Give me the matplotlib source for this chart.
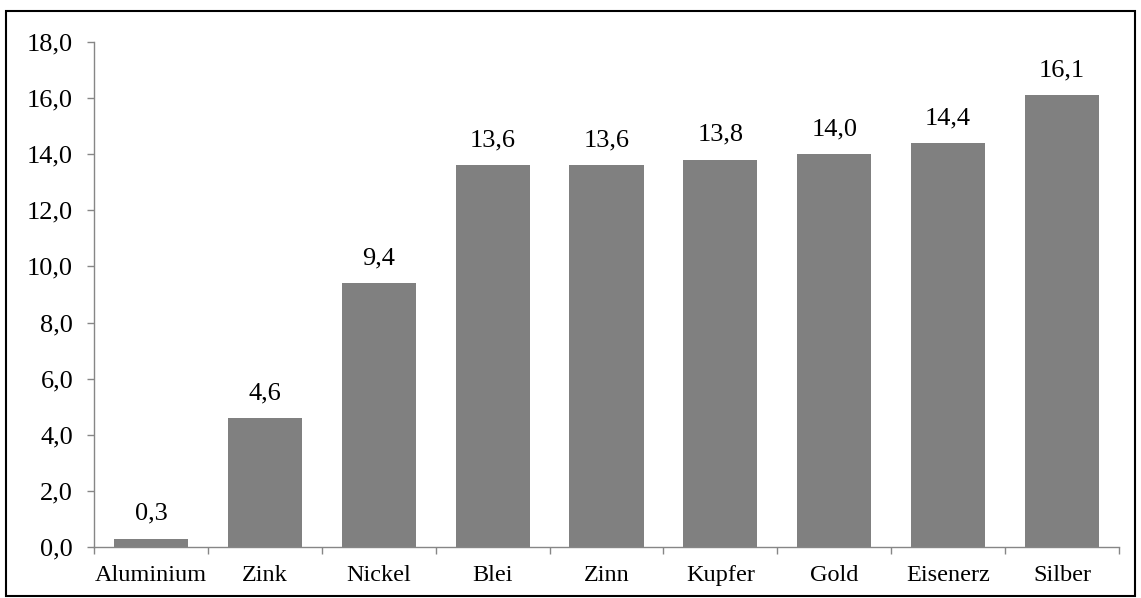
import matplotlib.pyplot as plt
from matplotlib.patches import Rectangle

plt.rcParams['font.family'] = ['Liberation Serif', 'DejaVu Serif']

metals = ['Aluminium', 'Zink', 'Nickel', 'Blei', 'Zinn', 'Kupfer', 'Gold', 'Eisenerz', 'Silber']
values = [0.3, 4.6, 9.4, 13.6, 13.6, 13.8, 14.0, 14.4, 16.1]
y_ticks = [0, 2, 4, 6, 8, 10, 12, 14, 16, 18]


def de_fmt(v):
    return f'{v:.1f}'.replace('.', ',')


fig = plt.figure(figsize=(11.41, 5.98), dpi=100)
ax = fig.add_axes([94 / 1141, 1 - 547 / 598, (1119 - 94) / 1141, (547 - 42) / 598])

axis_grey = '#868686'
x = range(len(metals))
bars = ax.bar(x, values, width=0.65, color='#808080', zorder=2)

for b, v in zip(bars, values):
    ax.annotate(de_fmt(v), (b.get_x() + b.get_width() / 2, v),
                xytext=(0, 10), textcoords='offset points',
                ha='center', va='bottom', fontsize=19)

ax.set_xlim(-0.5, len(metals) - 0.5)
ax.set_ylim(0, 18)
ax.set_yticks(y_ticks)
ax.set_yticklabels([de_fmt(t) for t in y_ticks], fontsize=19)
ax.set_xticks(x)
ax.set_xticklabels(metals, fontsize=17.5)
ax.set_xticks([i - 0.5 for i in range(len(metals) + 1)], minor=True)

ax.tick_params(axis='x', which='major', length=0, pad=13)
ax.tick_params(axis='x', which='minor', length=5, color=axis_grey, width=1)
ax.tick_params(axis='y', length=5, color=axis_grey, width=1, pad=10)

for side in ('top', 'right'):
    ax.spines[side].set_visible(False)
for side in ('left', 'bottom'):
    ax.spines[side].set_color(axis_grey)
    ax.spines[side].set_linewidth(1)

# outer frame around the whole chart
fig.patches.append(Rectangle((6 / 1141, 2 / 598), 1129 / 1141, 585 / 598,
                             transform=fig.transFigure, fill=False,
                             edgecolor='black', linewidth=1.5))

fig.savefig('out.png', dpi=100)
